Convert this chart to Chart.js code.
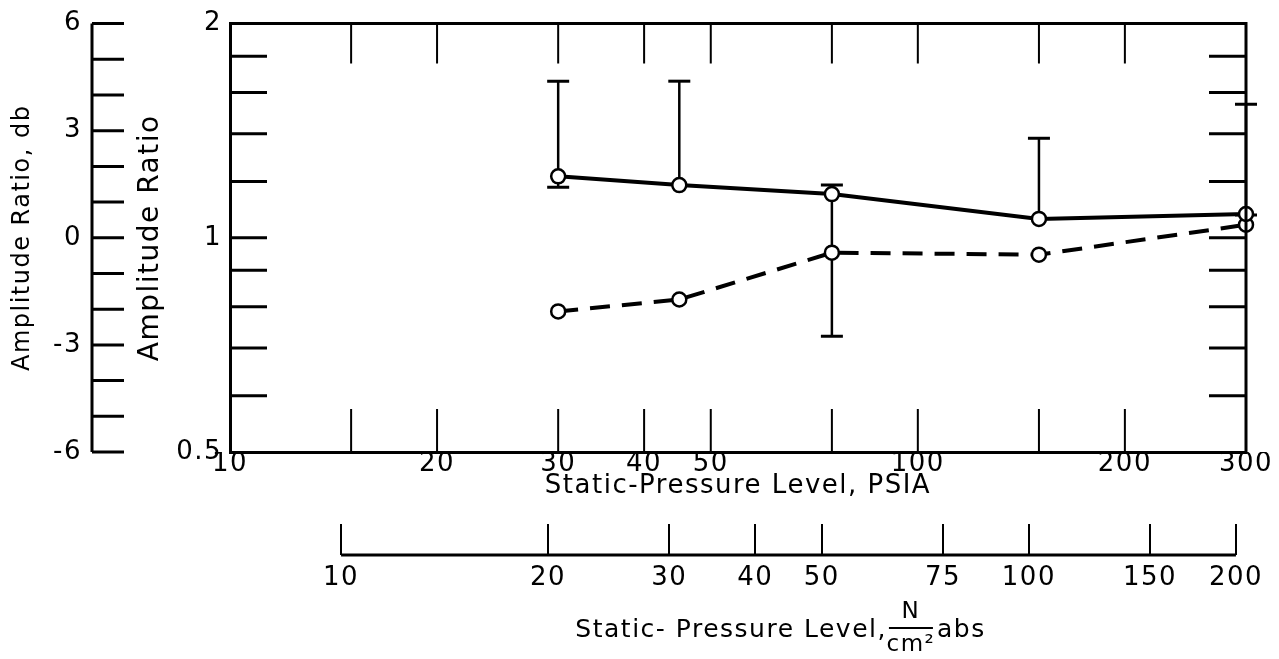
<!DOCTYPE html>
<html>
<head>
<meta charset="utf-8">
<title>Amplitude ratio vs static pressure</title>
<script src="https://cdn.jsdelivr.net/npm/chart.js@4.4.1/dist/chart.umd.min.js"></script>
<style>
  html, body { margin: 0; padding: 0; background: #fff; }
  #wrap { width: 1279px; height: 659px; }
</style>
</head>
<body>
<div id="wrap"><canvas id="chart" width="1279" height="659"></canvas></div>
<script>
// data
const pressurePsia = [30, 45, 75, 150, 300];
const ratioSolid = [1.22, 1.186, 1.152, 1.063, 1.08];
const ratioDashed = [0.788, 0.819, 0.953, 0.947, 1.043];
const errHigh = [1.66, 1.66, 1.186, 1.38, 1.54];
const errLow = [1.178, null, 0.727, null, 1.077]; // null = no lower bar

// axis ticks
const psiaLabels = [10, 20, 30, 40, 50, 100, 200, 300];
const psiaMarks = [15, 20, 30, 40, 50, 75, 100, 150, 200];
const ratioLabels = [0.5, 1, 2];
const ratioMarks = [0.6, 0.7, 0.8, 0.9, 1, 1.2, 1.4, 1.6, 1.8];
const dbMarks = [-6, -5, -4, -3, -2, -1, 0, 1, 2, 3, 4, 5, 6];
const newtonTicks = [10, 20, 30, 40, 50, 75, 100, 150, 200];
const psiToNcm2 = 0.6895;

Chart.defaults.font.family = "'DejaVu Sans', sans-serif";
Chart.defaults.color = '#000';

const tickFont = { size: 26 };
const titleFont = { size: 26 };

const axisDecor = {
  id: 'axisDecor',
  beforeDraw(chart) {
    chart.ctx.letterSpacing = '1.5px';
  },
  beforeDatasetsDraw(chart) {
    const { ctx, scales: { x, y } } = chart;
    ctx.save();
    ctx.strokeStyle = '#000';
    pressurePsia.forEach((p, i) => {
      const px = x.getPixelForValue(p);
      const top = y.getPixelForValue(errHigh[i]);
      const low = errLow[i] === null ? ratioSolid[i] : errLow[i];
      const bottom = y.getPixelForValue(low);
      ctx.lineWidth = 2.5;
      ctx.beginPath();
      ctx.moveTo(px, top);
      ctx.lineTo(px, bottom);
      ctx.stroke();
      ctx.lineWidth = 3;
      ctx.beginPath();
      ctx.moveTo(px - 11, top);
      ctx.lineTo(px + 11, top);
      if (errLow[i] !== null) {
        ctx.moveTo(px - 11, bottom);
        ctx.lineTo(px + 11, bottom);
      }
      ctx.stroke();
    });
    ctx.restore();
  },
  afterDraw(chart) {
    const { ctx, chartArea: a, scales: { x, y, ydb, xN } } = chart;
    ctx.save();
    ctx.strokeStyle = '#000';

    // top and right edge of the frame
    ctx.lineWidth = 3;
    ctx.beginPath();
    ctx.moveTo(a.left, a.top);
    ctx.lineTo(a.right, a.top);
    ctx.lineTo(a.right, a.bottom);
    ctx.stroke();

    // inward ticks, left and right
    ctx.lineWidth = 3;
    ctx.beginPath();
    ratioMarks.forEach(v => {
      const py = y.getPixelForValue(v);
      ctx.moveTo(a.left, py);
      ctx.lineTo(a.left + 37, py);
      ctx.moveTo(a.right, py);
      ctx.lineTo(a.right - 37, py);
    });
    ctx.stroke();

    // inward ticks, top and bottom
    ctx.lineWidth = 2;
    ctx.beginPath();
    psiaMarks.forEach(v => {
      const px = x.getPixelForValue(v);
      ctx.moveTo(px, a.top);
      ctx.lineTo(px, a.top + 40);
      ctx.moveTo(px, a.bottom);
      ctx.lineTo(px, a.bottom - 43);
    });
    ctx.stroke();

    // db axis: line with ticks pointing right
    const dbX = ydb.right + 7;
    ctx.lineWidth = 3;
    ctx.beginPath();
    ctx.moveTo(dbX, ydb.getPixelForValue(6));
    ctx.lineTo(dbX, ydb.getPixelForValue(-6));
    dbMarks.forEach(v => {
      const py = ydb.getPixelForValue(v);
      ctx.moveTo(dbX, py);
      ctx.lineTo(dbX + 32, py);
    });
    ctx.stroke();

    // N/cm2 axis baseline
    const baseY = xN.top + 31;
    ctx.beginPath();
    ctx.moveTo(xN.getPixelForValue(newtonTicks[0]), baseY);
    ctx.lineTo(xN.getPixelForValue(newtonTicks[newtonTicks.length - 1]), baseY);
    ctx.stroke();

    // N/cm2 axis title with the fraction
    const cx = xN.getPixelForValue(Math.sqrt(newtonTicks[0] * newtonTicks[newtonTicks.length - 1])) - 8;
    const ty = xN.top + 106;
    ctx.fillStyle = '#000';
    ctx.textBaseline = 'middle';
    ctx.font = "25px 'DejaVu Sans'";
    const mainText = 'Static- Pressure Level,';
    const mainW = ctx.measureText(mainText).width;
    const fracW = 44;
    const absText = 'abs';
    const absW = ctx.measureText(absText).width;
    const startX = cx - (mainW + fracW + absW + 6) / 2;
    ctx.textAlign = 'left';
    ctx.fillText(mainText, startX, ty);
    const fx = startX + mainW + 2;
    ctx.lineWidth = 2;
    ctx.beginPath();
    ctx.moveTo(fx, ty - 2);
    ctx.lineTo(fx + fracW, ty - 2);
    ctx.stroke();
    ctx.textAlign = 'center';
    ctx.font = "23px 'DejaVu Sans'";
    ctx.fillText('N', fx + fracW / 2, ty - 18);
    ctx.fillText('cm²', fx + fracW / 2, ty + 15);
    ctx.textAlign = 'left';
    ctx.font = "25px 'DejaVu Sans'";
    ctx.fillText(absText, fx + fracW + 4, ty);
    ctx.restore();
  }
};

new Chart(document.getElementById('chart'), {
  type: 'line',
  data: {
    datasets: [
      {
        data: pressurePsia.map((p, i) => ({ x: p, y: ratioSolid[i] })),
        borderColor: '#000',
        borderWidth: 4,
        pointRadius: 7,
        pointBorderWidth: 2.5,
        pointBackgroundColor: '#fff',
        pointBorderColor: '#000',
        clip: false
      },
      {
        data: pressurePsia.map((p, i) => ({ x: p, y: ratioDashed[i] })),
        borderColor: '#000',
        borderWidth: 4,
        borderDash: [20, 12],
        pointRadius: 7,
        pointBorderWidth: 2.5,
        pointBackgroundColor: '#fff',
        pointBorderColor: '#000',
        clip: false
      }
    ]
  },
  options: {
    responsive: false,
    animation: false,
    devicePixelRatio: 1,
    layout: { padding: { top: 23, right: 33, bottom: 0, left: 0 } },
    plugins: { legend: { display: false }, tooltip: { enabled: false } },
    scales: {
      x: {
        type: 'logarithmic',
        position: 'bottom',
        min: 10,
        max: 300,
        afterBuildTicks: s => { s.ticks = psiaLabels.map(v => ({ value: v })); },
        ticks: { font: tickFont, padding: -3, maxRotation: 0, autoSkip: false, callback: v => String(v) },
        grid: { display: false, drawTicks: false },
        border: { display: true, color: '#000', width: 3 },
        title: { display: true, text: 'Static-Pressure Level, PSIA', font: titleFont, padding: { top: 0, bottom: 22 } },
        afterFit: s => { s.height = 72; }
      },
      xN: {
        type: 'logarithmic',
        position: 'bottom',
        weight: 1,
        min: 10 * psiToNcm2,
        max: 300 * psiToNcm2,
        afterBuildTicks: s => { s.ticks = newtonTicks.map(v => ({ value: v })); },
        ticks: { font: tickFont, padding: 8, maxRotation: 0, autoSkip: false, callback: v => String(v) },
        grid: { display: true, drawOnChartArea: false, drawTicks: true, tickLength: 31, color: '#000', lineWidth: 2 },
        border: { display: false },
        afterFit: s => { s.height = 135; }
      },
      y: {
        type: 'logarithmic',
        position: 'left',
        weight: 0,
        min: 0.5,
        max: 2,
        afterBuildTicks: s => { s.ticks = ratioLabels.map(v => ({ value: v })); },
        ticks: { font: tickFont, padding: 8, callback: v => String(v) },
        grid: { display: false, drawTicks: false },
        border: { display: true, color: '#000', width: 3 },
        title: { display: true, text: 'Amplitude Ratio', font: { size: 28 }, padding: 49 },
        afterFit: s => { s.width = 145; }
      },
      ydb: {
        type: 'linear',
        position: 'left',
        weight: 1,
        min: -6,
        max: 6,
        afterBuildTicks: s => { s.ticks = dbMarks.map(v => ({ value: v })); },
        ticks: { font: tickFont, padding: 3, callback: v => (v % 3 === 0 ? String(v) : '') },
        grid: { display: false, drawTicks: false },
        border: { display: false },
        title: { display: true, text: 'Amplitude Ratio, db', font: { size: 24 }, padding: 8 },
        afterFit: s => { s.width = 85; }
      }
    }
  },
  plugins: [axisDecor]
});
</script>
</body>
</html>
